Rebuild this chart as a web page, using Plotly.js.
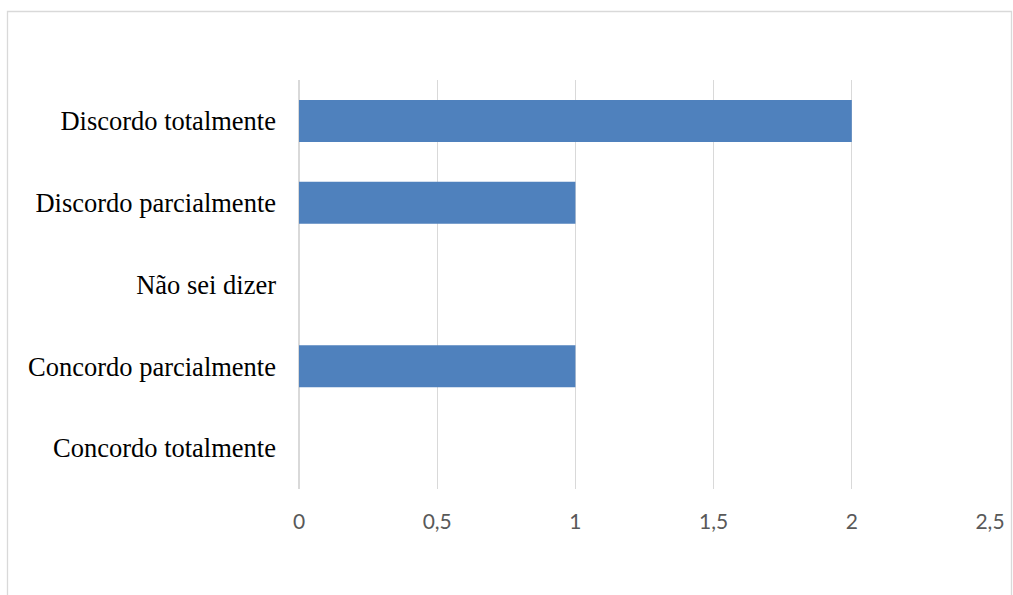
<!DOCTYPE html>
<html>
<head>
<meta charset="utf-8">
<script src="https://cdn.plot.ly/plotly-3.0.1.min.js"></script>
<style>
  html, body { margin: 0; padding: 0; background: #ffffff; }
  #chart { width: 1013px; height: 595px; }
</style>
</head>
<body>
<div id="chart"></div>
<script>
// Response categories, listed top to bottom
const categories = [
  "Discordo totalmente",
  "Discordo parcialmente",
  "Não sei dizer",
  "Concordo parcialmente",
  "Concordo totalmente"
];
// Number of answers per category
const counts = [2, 1, 0, 1, 0];
// Horizontal axis ticks
const tickValues = [0, 0.5, 1, 1.5, 2, 2.5];
const tickLabels = ["0", "0,5", "1", "1,5", "2", "2,5"];

const W = 1013, H = 595;
const margin = { l: 299, r: 23, t: 80, b: 106 };
const plotW = W - margin.l - margin.r;
const plotH = H - margin.t - margin.b;
// convert page pixels to paper coordinates for the outer frame
const px = x => (x - margin.l) / plotW;
const py = y => 1 - (y - margin.t) / plotH;

const trace = {
  type: "bar",
  orientation: "h",
  x: counts,
  y: categories,
  marker: { color: "#4F81BD", line: { width: 0 } },
  hoverinfo: "x+y"
};

const layout = {
  width: W,
  height: H,
  margin: margin,
  paper_bgcolor: "#ffffff",
  plot_bgcolor: "#ffffff",
  showlegend: false,
  bargap: 0.486,
  xaxis: {
    range: [0, 2.5],
    tickvals: tickValues,
    ticktext: tickLabels,
    showgrid: true,
    gridcolor: "#D9D9D9",
    gridwidth: 1.3,
    zeroline: true,
    zerolinecolor: "#D9D9D9",
    zerolinewidth: 1.3,
    showline: false,
    ticks: "",
    ticklabelstandoff: 18,
    tickfont: { family: "Lato, 'Open Sans', sans-serif", size: 21, color: "#595959" }
  },
  yaxis: {
    type: "category",
    autorange: "reversed",
    showgrid: false,
    zeroline: false,
    showline: false,
    ticks: "",
    ticklabelstandoff: 22,
    tickfont: { family: "'Liberation Serif', 'Times New Roman', serif", size: 26.5, color: "#000000" }
  },
  shapes: [
    {
      type: "rect",
      xref: "paper", yref: "paper",
      x0: px(7.5), x1: px(1011.5),
      y0: py(600), y1: py(11.5),
      line: { color: "#D9D9D9", width: 1.3 },
      fillcolor: "rgba(0,0,0,0)",
      layer: "below"
    }
  ]
};

Plotly.newPlot("chart", [trace], layout, { displayModeBar: false, staticPlot: true });
</script>
</body>
</html>
